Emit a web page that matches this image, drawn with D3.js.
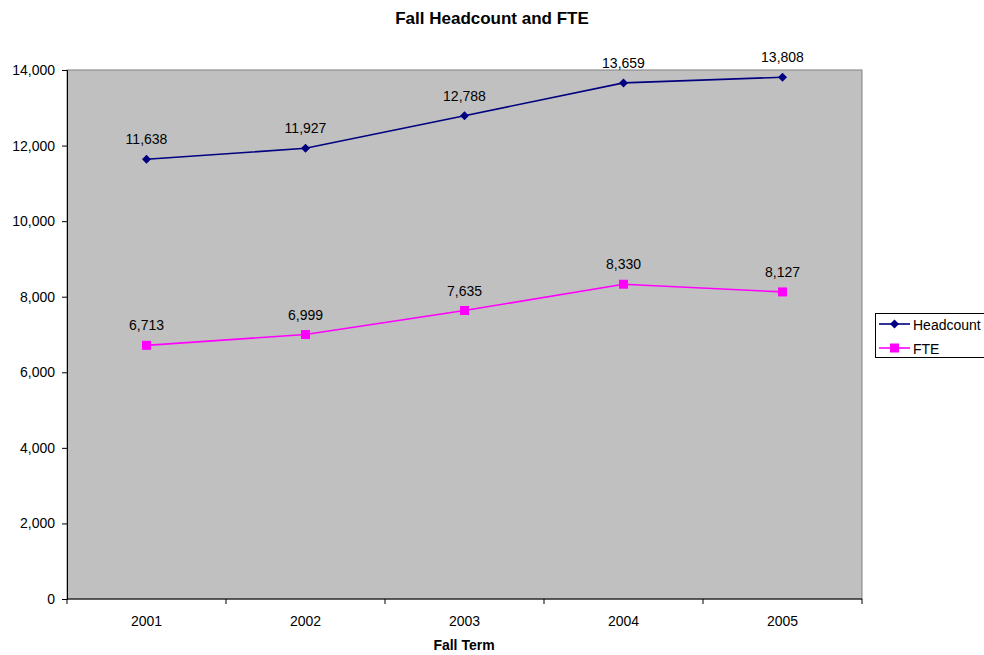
<!DOCTYPE html>
<html>
<head>
<meta charset="utf-8">
<script src="https://cdn.jsdelivr.net/npm/d3@7"></script>
<style>
  html, body { margin: 0; padding: 0; background: #fff; }
  svg { display: block; font-family: Arial, "Liberation Sans", sans-serif; }
</style>
</head>
<body>
<svg id="chart" width="984" height="655"></svg>
<script>
// Fall enrollment by term
const years = ["2001", "2002", "2003", "2004", "2005"];
const headcount = [11638, 11927, 12788, 13659, 13808];
const fte = [6713, 6999, 7635, 8330, 8127];
const yTicks = [0, 2000, 4000, 6000, 8000, 10000, 12000, 14000];

const series = [
  { name: "Headcount", values: headcount, color: "#000080", marker: "diamond" },
  { name: "FTE", values: fte, color: "#FF00FF", marker: "square" }
];

const svg = d3.select("#chart");
const plot = { left: 67, top: 70, right: 862, bottom: 599 };

const x = d3.scaleBand().domain(years).range([plot.left, plot.right]);
const y = d3.scaleLinear().domain([0, 14000]).range([plot.bottom, plot.top]);
const fmt = d3.format(",");
const markerPath = m => m === "diamond"
  ? "M0,-4.5L4.5,0L0,4.5L-4.5,0Z"
  : "M-4.5,-4.5H4.5V4.5H-4.5Z";

// plot background
svg.append("rect")
  .attr("x", plot.left).attr("y", plot.top)
  .attr("width", plot.right - plot.left).attr("height", plot.bottom - plot.top)
  .attr("fill", "#C0C0C0").attr("stroke", "#808080").attr("stroke-width", 1);

// y axis
const yAxis = svg.append("g")
  .attr("transform", `translate(${plot.left},0)`)
  .call(d3.axisLeft(y).tickValues(yTicks).tickFormat(fmt).tickSize(5).tickPadding(7));
yAxis.select(".domain").attr("stroke", "#000");
yAxis.selectAll(".tick line").attr("stroke", "#000");
yAxis.selectAll("text").attr("font-size", 14).attr("fill", "#000")
  .attr("font-family", "Arial, 'Liberation Sans', sans-serif");

// x axis with ticks on band boundaries
const xAxis = svg.append("g").attr("transform", `translate(0,${plot.bottom})`);
xAxis.append("line")
  .attr("x1", plot.left).attr("x2", plot.right)
  .attr("stroke", "#000");
const bounds = years.map(d => x(d)).concat([x(years[years.length - 1]) + x.bandwidth()]);
xAxis.selectAll("line.tk").data(bounds).join("line")
  .attr("class", "tk")
  .attr("x1", d => d).attr("x2", d => d)
  .attr("y1", 0).attr("y2", 5)
  .attr("stroke", "#000");
xAxis.selectAll("text").data(years).join("text")
  .attr("x", d => x(d) + x.bandwidth() / 2)
  .attr("y", 27)
  .attr("text-anchor", "middle")
  .attr("font-size", 14)
  .text(d => d);

const cx = d => x(d) + x.bandwidth() / 2;

// series lines, markers and value labels
series.forEach(s => {
  const pts = years.map((yr, i) => ({ yr, v: s.values[i] }));
  svg.append("path")
    .datum(pts)
    .attr("fill", "none")
    .attr("stroke", s.color)
    .attr("stroke-width", 1.6)
    .attr("d", d3.line().x(d => cx(d.yr)).y(d => y(d.v)));

  svg.selectAll(null).data(pts).join("path")
    .attr("transform", d => `translate(${cx(d.yr)},${y(d.v)})`)
    .attr("d", markerPath(s.marker))
    .attr("fill", s.color);

  svg.selectAll(null).data(pts).join("text")
    .attr("x", d => cx(d.yr))
    .attr("y", d => y(d.v) - 15)
    .attr("text-anchor", "middle")
    .attr("font-size", 14)
    .attr("fill", "#000")
    .text(d => fmt(d.v));
});

// chart title (centred on the whole chart) and axis title
svg.append("text")
  .attr("x", 492).attr("y", 24)
  .attr("text-anchor", "middle")
  .attr("font-size", 17).attr("font-weight", "bold")
  .text("Fall Headcount and FTE");
svg.append("text")
  .attr("x", 464).attr("y", 650)
  .attr("text-anchor", "middle")
  .attr("font-size", 14).attr("font-weight", "bold")
  .text("Fall Term");

// legend
const lg = svg.append("g").attr("transform", "translate(875,313)");
lg.append("rect")
  .attr("x", 0.5).attr("y", 0.5).attr("width", 130).attr("height", 44)
  .attr("fill", "#fff").attr("stroke", "#000");
series.forEach((s, i) => {
  const yy = 11 + i * 24;
  lg.append("line")
    .attr("x1", 4).attr("x2", 35).attr("y1", yy).attr("y2", yy)
    .attr("stroke", s.color).attr("stroke-width", 1.6);
  lg.append("path")
    .attr("transform", `translate(19.5,${yy})`)
    .attr("d", markerPath(s.marker))
    .attr("fill", s.color);
  lg.append("text")
    .attr("x", 38).attr("y", yy + 5.5)
    .attr("font-size", 14)
    .text(s.name);
});
</script>
</body>
</html>
